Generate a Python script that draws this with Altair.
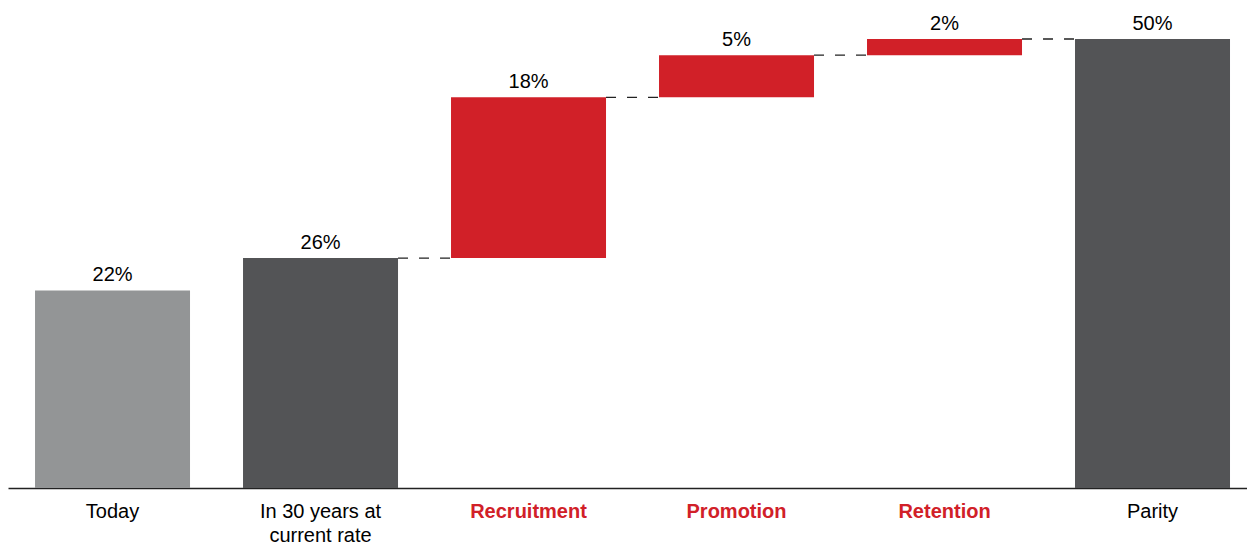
import altair as alt
import pandas as pd

categories = ["Today", "In 30 years at current rate", "Recruitment", "Promotion", "Retention", "Parity"]
bar_start = [0, 0, 25.6, 43.5, 48.2, 0]
bar_end = [22, 25.6, 43.5, 48.2, 50, 50]
value_labels = ["22%", "26%", "18%", "5%", "2%", "50%"]
kinds = ["today", "total", "change", "change", "change", "total"]

conn_from = ["In 30 years at current rate", "Recruitment", "Promotion", "Retention"]
conn_to = ["Recruitment", "Promotion", "Retention", "Parity"]
conn_level = [25.6, 43.5, 48.2, 50]

df = pd.DataFrame({"cat": categories, "start": bar_start, "end": bar_end,
                   "label": value_labels, "kind": kinds})
cdf = pd.DataFrame({"a": conn_from, "b": conn_to, "lvl": conn_level})

FONT = "Liberation Sans"
RED = "#d12028"

xscale = alt.Scale(domain=categories, paddingInner=0.2548, paddingOuter=0.1058, align=0.614)
yscale = alt.Scale(domain=[0, 53.45], nice=False)

label_expr = ("datum.value == 'In 30 years at current rate' ? "
              "['In 30 years at', 'current rate'] : datum.value")
red_test = "indexof(['Recruitment','Promotion','Retention'], datum.value) >= 0"

xaxis = alt.Axis(
    title=None, labelAngle=0, ticks=False, grid=False,
    domainColor="#222222", domainWidth=1.5,
    labelFont=FONT, labelFontSize=20, labelPadding=13, labelLineHeight=24,
    labelExpr=label_expr,
    labelColor=alt.ExprRef(expr=f"{red_test} ? '{RED}' : '#000000'"),
    labelFontWeight=alt.ExprRef(expr=f"{red_test} ? 'bold' : 'normal'"),
    labelLimit=400,
)

bars = alt.Chart(df).mark_bar().encode(
    x=alt.X("cat:N", scale=xscale, axis=xaxis, sort=categories),
    y=alt.Y("start:Q", scale=yscale, axis=None),
    y2="end:Q",
    color=alt.Color("kind:N", scale=alt.Scale(domain=["today", "total", "change"],
                                              range=["#939596", "#535456", RED]), legend=None),
)

texts = alt.Chart(df).mark_text(font=FONT, fontSize=20, baseline="bottom", dy=-5, color="#000000").encode(
    x=alt.X("cat:N", scale=xscale, sort=categories),
    y=alt.Y("end:Q", scale=yscale),
    text="label:N",
)

rules = alt.Chart(cdf).mark_rule(strokeDash=[10, 11], color="#222222", strokeWidth=1.3).encode(
    x=alt.X("a:N", scale=xscale, bandPosition=1, sort=categories),
    x2=alt.X2("b:N", bandPosition=0),
    y=alt.Y("lvl:Q", scale=yscale),
)

chart = alt.layer(bars, rules, texts).properties(
    width=1239, height=480,
    padding={"left": 0, "top": 0, "right": 0, "bottom": 0},
).configure_view(stroke=None)

chart.save("out.html", embed_options={"renderer": "svg", "actions": False})
